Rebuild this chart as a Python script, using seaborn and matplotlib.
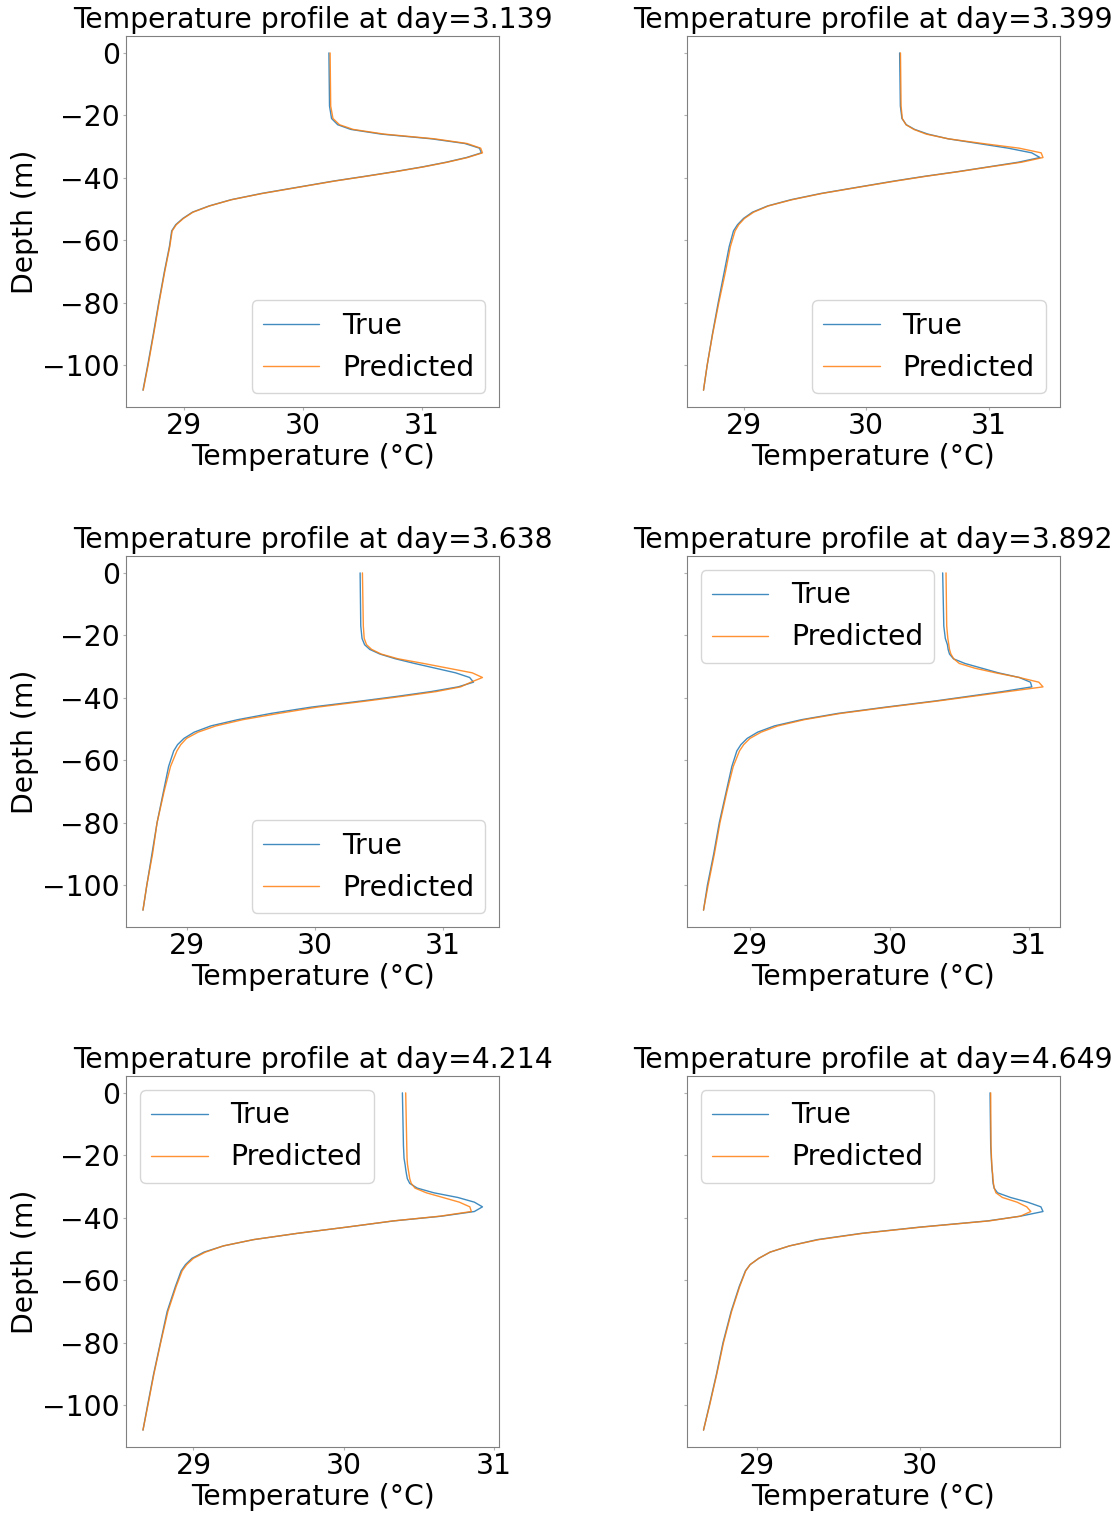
import numpy as np
import pandas as pd
import matplotlib
matplotlib.use("Agg")
import matplotlib.pyplot as plt
import seaborn as sns

# Depth levels (m), shared by all profiles
depth = [0, -17, -21, -23, -24.5, -26, -27.5, -29, -30.5, -32, -33.5, -35, -36.5, -38,
         -39.5, -41, -43, -45, -47, -49, -51, -53, -55, -57, -62, -70, -80, -90, -100, -108]

days = ["3.139", "3.399", "3.638", "3.892", "4.214", "4.649"]

true_1 = [30.216, 30.221, 30.238, 30.29, 30.40, 30.655, 31.075, 31.356, 31.48, 31.496, 31.37, 31.20,
          31.0, 30.77, 30.52, 30.26, 29.955, 29.65, 29.395, 29.21, 29.07, 28.99, 28.93, 28.896,
          28.877, 28.835, 28.787, 28.742, 28.695, 28.655]
pred_1 = [30.226, 30.231, 30.25, 30.305, 30.42, 30.68, 31.10, 31.375, 31.49, 31.505, 31.38, 31.21,
          31.01, 30.78, 30.53, 30.27, 29.965, 29.66, 29.40, 29.215, 29.075, 28.995, 28.935, 28.90,
          28.88, 28.838, 28.79, 28.745, 28.698, 28.657]

true_2 = [30.273, 30.279, 30.292, 30.328, 30.396, 30.505, 30.669, 30.915, 31.161, 31.353, 31.42, 31.243,
          30.997, 30.75, 30.478, 30.232, 29.93, 29.63, 29.385, 29.194, 29.07, 28.997, 28.948, 28.915,
          28.88, 28.84, 28.79, 28.743, 28.70, 28.67]
pred_2 = [30.28, 30.285, 30.295, 30.325, 30.39, 30.49, 30.67, 30.95, 31.25, 31.43, 31.445, 31.27,
          31.01, 30.76, 30.49, 30.245, 29.94, 29.64, 29.395, 29.20, 29.08, 29.005, 28.958, 28.928,
          28.89, 28.85, 28.795, 28.745, 28.70, 28.67]

true_3 = [30.355, 30.36, 30.37, 30.39, 30.43, 30.51, 30.63, 30.78, 30.94, 31.10, 31.21, 31.24,
          31.12, 30.91, 30.65, 30.37, 29.97, 29.66, 29.40, 29.19, 29.06, 28.98, 28.93, 28.90,
          28.86, 28.82, 28.77, 28.73, 28.69, 28.66]
pred_3 = [30.373, 30.38, 30.387, 30.405, 30.445, 30.52, 30.65, 30.85, 31.04, 31.23, 31.31, 31.22,
          31.14, 30.95, 30.69, 30.41, 30.02, 29.72, 29.44, 29.23, 29.09, 29.00, 28.955, 28.925,
          28.875, 28.825, 28.77, 28.735, 28.69, 28.66]

true_4 = [30.381, 30.389, 30.40, 30.415, 30.42, 30.43, 30.458, 30.54, 30.66, 30.78, 30.93, 31.01,
          31.02, 30.81, 30.57, 30.33, 29.97, 29.63, 29.37, 29.175, 29.055, 28.98, 28.935, 28.906,
          28.87, 28.83, 28.78, 28.74, 28.695, 28.667]
pred_4 = [30.405, 30.41, 30.418, 30.425, 30.43, 30.44, 30.46, 30.50, 30.61, 30.76, 30.93, 31.07,
          31.10, 30.85, 30.60, 30.35, 29.99, 29.65, 29.39, 29.20, 29.08, 29.0, 28.955, 28.925,
          28.88, 28.835, 28.785, 28.745, 28.70, 28.667]

true_5 = [30.391, 30.398, 30.402, 30.409, 30.413, 30.418, 30.424, 30.44, 30.49, 30.60, 30.76, 30.87,
          30.924, 30.87, 30.65, 30.335, 30.02, 29.69, 29.40, 29.20, 29.07, 28.99, 28.947, 28.918,
          28.88, 28.825, 28.78, 28.735, 28.695, 28.664]
pred_5 = [30.413, 30.42, 30.422, 30.425, 30.43, 30.435, 30.44, 30.45, 30.475, 30.55, 30.66, 30.77,
          30.84, 30.85, 30.64, 30.33, 30.02, 29.69, 29.40, 29.20, 29.08, 29.00, 28.955, 28.925,
          28.885, 28.83, 28.782, 28.737, 28.697, 28.664]

true_6 = [30.434, 30.438, 30.442, 30.444, 30.446, 30.449, 30.45, 30.453, 30.459, 30.48, 30.56, 30.665,
          30.747, 30.76, 30.62, 30.42, 30.0, 29.64, 29.37, 29.20, 29.08, 29.01, 28.957, 28.928,
          28.89, 28.84, 28.79, 28.75, 28.706, 28.67]
pred_6 = [30.438, 30.44, 30.443, 30.445, 30.447, 30.45, 30.452, 30.455, 30.46, 30.47, 30.51, 30.60,
          30.66, 30.685, 30.62, 30.43, 30.01, 29.65, 29.38, 29.20, 29.08, 29.01, 28.957, 28.93,
          28.893, 28.843, 28.793, 28.752, 28.708, 28.67]

true_all = [true_1, true_2, true_3, true_4, true_5, true_6]
pred_all = [pred_1, pred_2, pred_3, pred_4, pred_5, pred_6]
legend_loc = ["lower right", "lower right", "lower right", "upper left", "upper left", "upper left"]

sns.set_style("white", {
    "axes.edgecolor": "gray",
    "xtick.bottom": True,
    "ytick.left": True,
    "xtick.color": "#b0b0b0",
    "ytick.color": "#b0b0b0",
    "text.color": "black",
    "axes.labelcolor": "black",
})
plt.rcParams["font.family"] = ["DejaVu Sans"]
plt.rcParams["font.size"] = 20
plt.rcParams["text.color"] = "black"
plt.rcParams["axes.labelcolor"] = "black"
plt.rcParams["axes.titlecolor"] = "black"
plt.rcParams["xtick.labelcolor"] = "black"
plt.rcParams["ytick.labelcolor"] = "black"
plt.rcParams["xtick.major.size"] = 2
plt.rcParams["ytick.major.size"] = 2
plt.rcParams["xtick.major.pad"] = 1.5
plt.rcParams["ytick.major.pad"] = 2.5
plt.rcParams["axes.labelpad"] = 2.5

fig, axes = plt.subplots(3, 2, figsize=(11.18, 15.15), dpi=100, sharey=True)
fig.subplots_adjust(left=0.1127, right=0.9481, top=0.9762, bottom=0.0449,
                    wspace=0.501, hspace=0.4016)

blue, orange = sns.color_palette("tab10")[0], sns.color_palette("tab10")[1]

for i, ax in enumerate(axes.flat):
    df_t = pd.DataFrame({"Temperature": true_all[i], "Depth": depth})
    df_p = pd.DataFrame({"Temperature": pred_all[i], "Depth": depth})
    sns.lineplot(data=df_t, x="Temperature", y="Depth", sort=False, estimator=None,
                 ax=ax, color=blue, lw=1, alpha=0.85, label="True")
    sns.lineplot(data=df_p, x="Temperature", y="Depth", sort=False, estimator=None,
                 ax=ax, color=orange, lw=1, alpha=0.85, label="Predicted")
    ax.set_title(f"Temperature profile at day={days[i]}", fontsize=20.3, color="black")
    ax.set_xlabel("Temperature (°C)", fontsize=20.3, color="black")
    if i % 2 == 0:
        ax.set_ylabel("Depth (m)", fontsize=20.3, color="black")
    else:
        ax.set_ylabel("")
    ax.tick_params(labelsize=20.3, labelcolor="black")
    ax.set_yticks([0, -20, -40, -60, -80, -100])
    leg = ax.legend(loc=legend_loc[i], fontsize=20.3)
    for t in leg.get_texts():
        t.set_color("black")
    for s in ax.spines.values():
        s.set_color("gray")

fig.savefig("out.png", dpi=100)
